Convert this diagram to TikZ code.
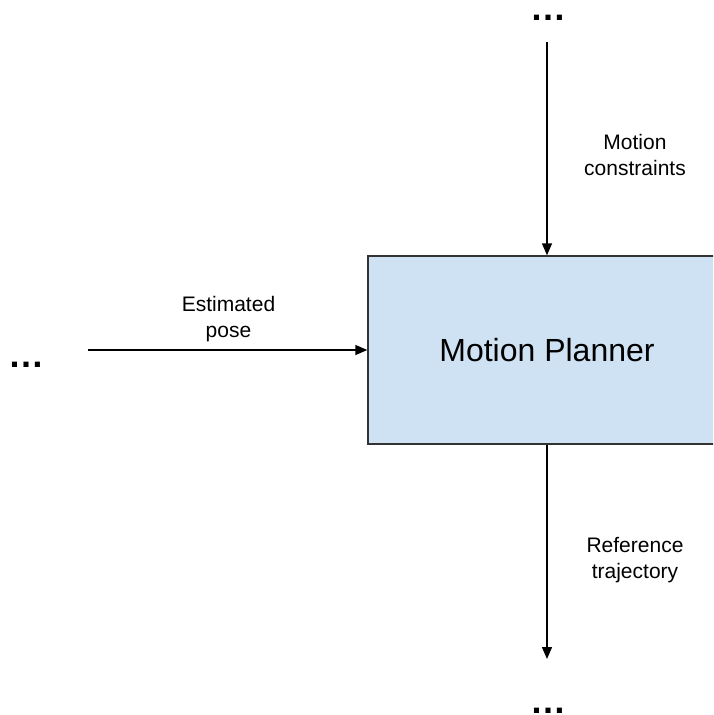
\documentclass[tikz,border=0pt]{standalone}
\usepackage{fontspec}
\setmainfont{Liberation Sans}
\usetikzlibrary{arrows.meta}
\definecolor{boxfill}{HTML}{CFE2F3}
\definecolor{boxline}{HTML}{333333}
\tikzset{
  flow/.style={line width=1.4pt, -{Triangle[length=12pt,width=10pt]}},
  label/.style={align=center, inner sep=0pt, anchor=north,
    font=\fontsize{21}{25.5}\selectfont},
  more/.style={inner sep=0pt, font=\bfseries\fontsize{36}{36}\selectfont},
  block/.style={draw=boxline, fill=boxfill, line width=1.4pt,
    minimum width=358pt, minimum height=188pt, inner sep=0pt,
    font=\fontsize{32}{36}\selectfont}
}
\begin{document}
\begin{tikzpicture}[x=1pt, y=-1pt]
  \useasboundingbox (0,0) rectangle (713,715);
  \clip (0,0) rectangle (713,715);

  % central block (right side runs off the page)
  \node[block] (planner) at (547,350) {Motion Planner};

  % ellipses standing for the neighbouring stages
  \node[more] (topmore) at (548,18) {…};
  \node[more] (leftmore) at (27,365) {…};
  \node[more] (botmore) at (548,710.5) {…};

  % connector ends
  \coordinate (topstart) at (547,42);
  \coordinate (leftstart) at (88,350);
  \coordinate (botend) at (547,659);

  \draw[flow] (topstart) -- (planner.north);
  \draw[flow] (leftstart) -- (planner.west);
  \draw[flow] (planner.south) -- (botend);

  % signal labels
  \node[label] (lconstr) at (635,134.5) {Motion\\constraints};
  \node[label] (lpose) at (228.5,296.5) {Estimated\\pose};
  \node[label] (ltraj) at (635,537.5) {Reference\\trajectory};
\end{tikzpicture}
\end{document}
